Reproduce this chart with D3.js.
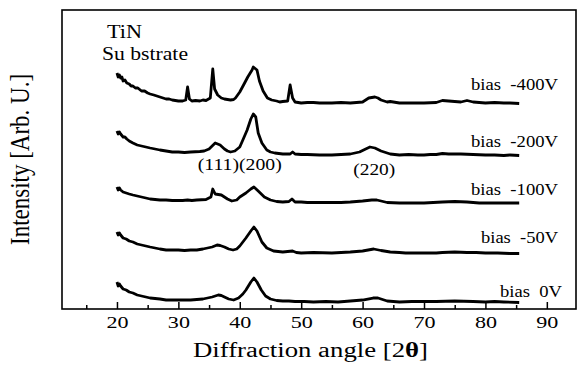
<!DOCTYPE html>
<html>
<head>
<meta charset="utf-8">
<script src="https://cdn.jsdelivr.net/npm/d3@7"></script>
<style>
  body { margin: 0; background: #fff; }
  svg { display: block; font-family: "Liberation Serif", "Times New Roman", serif; }
</style>
</head>
<body>
<div id="chart"></div>
<script>
// XRD patterns, [2theta, intensity above the flat background], one per bias voltage
const biasLabels = ['bias  -400V', 'bias  -200V', 'bias  -100V', 'bias  -50V', 'bias  0V'];
const offsets = [206, 154, 106, 56, 7];

const bias400 = [
  [20, 30], [20.2, 26], [20.4, 28], [20.6, 25], [20.8, 26], [21, 22], [21.3, 23], [21.6, 20],
  [22, 19], [22.3, 17], [22.6, 17], [23, 15], [23.4, 15], [24, 12], [24.5, 12], [25, 10],
  [25.4, 9], [26, 8], [26.5, 7], [27, 6], [27.5, 5], [28, 4], [28.5, 4], [29, 3], [29.5, 2.5],
  [30, 2], [30.7, 2], [31.2, 3], [31.5, 16], [31.8, 4], [32.2, 2], [32.8, 2.5], [33.5, 2],
  [34, 3], [34.5, 2.5], [35.2, 5], [35.6, 34], [35.9, 14], [36.4, 8], [37, 5], [37.5, 4],
  [38, 3.5], [38.5, 3], [39, 3.5], [39.3, 5], [40, 11], [40.7, 19], [41.3, 26], [41.7, 30],
  [42, 33], [42.2, 36], [42.4, 35], [42.8, 33], [43.2, 22], [43.8, 12], [44.5, 5], [45.2, 3],
  [46, 2], [46.5, 1], [47, 1.5], [47.8, 2], [48.2, 18], [48.6, 5], [49, 1], [50, 0], [51, 0.5],
  [52, 0.5], [53, 0], [55, 0], [56.5, 0.5], [58, 0], [60, 1], [61, 5], [62, 6], [62.5, 5],
  [63, 3], [64, 1], [64.5, 1.5], [66, 0], [68, 0], [70, 0], [72, 0.5], [73, 2.5], [74, 2],
  [75, 1.5], [76, 1], [77, 2.5], [78, 1], [79, 0.5], [80, 0], [81.5, 0.5], [83, 0], [84, 0],
  [85.5, -0.5]
];
const bias200 = [
  [20, 24], [20.2, 21], [20.4, 23], [20.6, 21], [21, 18], [21.3, 18], [21.6, 16], [22, 14],
  [22.6, 12], [23.3, 10], [24, 9], [24.7, 8], [25.4, 7], [26.2, 6], [27, 5], [28, 4], [29, 3],
  [30, 3], [31, 2.5], [32, 3], [33.5, 3.5], [34.2, 4], [35, 6], [35.5, 9], [36, 12], [36.4, 11],
  [36.8, 10], [37.5, 6], [38, 4], [38.5, 3], [39.2, 4], [40, 8], [40.5, 15], [41.2, 25],
  [41.8, 36], [42.2, 41], [42.6, 38], [43, 22], [43.6, 12], [44.4, 5], [45, 3], [45.7, 2],
  [47, 1], [48.2, 1], [48.6, 3], [49, 1], [50, 0.5], [51, 0.5], [53, 0], [55, 0], [56.5, 0.5],
  [58, 1], [59.5, 3], [60.5, 6], [61.2, 8], [62, 7], [63, 4], [64.5, 1], [66, 0], [67.5, 0.5],
  [69, 0], [70, 0], [71, 0.5], [72, 0.5], [73, 1.5], [74, 1], [76, 1], [78, 0.5], [80, 0],
  [81.5, 0], [83, -0.5], [84, 0], [85.5, -0.5]
];
const bias100 = [
  [20, 16], [20.2, 13], [20.4, 15], [20.6, 13], [21, 11], [21.5, 10], [22, 9], [22.6, 8],
  [23.3, 7], [24, 6], [24.7, 5], [25.4, 4], [26.2, 3.5], [27, 3], [28, 3], [29, 2.5],
  [30.7, 2.5], [31.5, 3], [32.2, 2.5], [33, 3], [34.5, 3.5], [35.3, 6], [35.6, 14], [36, 9],
  [36.5, 8.5], [37, 8], [38, 4], [38.7, 2], [39.5, 3], [40, 6], [41, 10], [41.8, 14], [42.3, 16],
  [43, 12], [44, 6], [45, 3], [46, 1.5], [47, 1], [48, 1.5], [48.5, 4], [49, 1], [50, 1],
  [51, 0.5], [53, 0.5], [55, 0.5], [56.5, 0.5], [58, 1], [60, 2], [61.5, 3], [62.3, 3], [63, 2],
  [64, 0.5], [66, 0], [68, 0], [70, 0], [71.5, 0.5], [73, 1], [75, 1.5], [77, 1], [78, 0.5],
  [79, 0], [81, 0], [83, 0], [85.5, 0]
];
const bias50 = [
  [20, 21], [20.2, 18], [20.4, 20], [20.6, 18], [21, 15], [21.5, 14], [22, 12], [22.6, 11],
  [23.3, 9], [24, 8], [24.7, 7], [25.4, 6], [26.2, 5], [27, 4], [28, 3], [29, 3], [30, 3],
  [31, 2.5], [32, 3], [33, 3], [34, 4], [35.5, 6], [36.3, 8], [36.8, 7.5], [37.5, 6], [38.2, 4],
  [38.9, 3], [39.5, 4], [40, 7], [41, 15], [41.8, 22], [42.3, 26], [42.8, 22], [43.6, 11],
  [44.4, 5], [45.5, 2], [47, 1], [48.6, 2], [49.2, 0.5], [50, 0], [52, 0.5], [55, 0], [56.5, 0.5],
  [58, 1], [60, 2], [61.8, 4], [63, 2.5], [64.5, 1], [66, 0.5], [67, 0], [70, 0], [72, 0],
  [73, 0.5], [75, 1], [77, 0.5], [78.5, 0.5], [80, 0], [82, 0], [84, -0.5], [85.5, -0.5]
];
const bias0 = [
  [20, 20], [20.2, 16], [20.4, 18], [20.6, 16], [21, 13], [21.5, 12], [22, 10], [22.6, 9],
  [23.3, 7], [24, 6], [24.7, 5], [25.4, 4], [26.2, 3.5], [27, 3], [28, 2], [29, 2], [30, 2],
  [31, 2], [32, 2], [33, 2.5], [34, 3], [35.5, 5], [36.5, 7], [37, 6.5], [37.5, 5], [38.2, 3],
  [39, 2], [39.8, 4], [40.5, 8], [41, 12], [41.8, 20], [42.3, 24], [42.8, 20], [43.5, 12],
  [44.2, 6], [45, 3], [46, 1.5], [47, 1], [48, 1], [49, 0.5], [50.5, 0.5], [52, 0], [54, 0.5],
  [56, 0], [58, 1], [60, 2], [61.7, 4], [62.5, 4], [63, 3], [64, 1], [66, 0], [68, 0.5],
  [70, 0.5], [72, 0.5], [75, 1], [78, 0.5], [80, 0], [81.5, 0.5], [83, 0], [85.5, -0.5]
];
const series = [bias400, bias200, bias100, bias50, bias0];

const xTicks = [20, 30, 40, 50, 60, 70, 80, 90];
const xMinorTicks = [15, 25, 35, 45, 55, 65, 75, 85];
const peakLabels = ['(111)(200)', '(220)'];
const peakAngles = [40.0, 61.9];

const width = 577;
const height = 367;
const margin = { top: 10, right: 1, bottom: 58, left: 62 };

// label placement, in pixels
const biasLift = [13, 8, 8, 10, 5];
const biasWidth = [87, 87, 87, 77, 62];
const biasRight = [558, 558, 558, 558, 562];
const peakLabelY = [170, 175];
const peakLabelWidth = [84, 42];

const svg = d3.select('#chart')
  .append('svg')
  .attr('width', width)
  .attr('height', height);

const x = d3.scaleLinear()
  .domain([11.05, 94.75])
  .range([margin.left, width - margin.right]);
const y = d3.scaleLinear()
  .domain([0, height - margin.top - margin.bottom])
  .range([height - margin.bottom, margin.top]);

const line = d3.line()
  .x(d => x(d[0]))
  .y(d => y(d[1]));

svg.append('g')
  .attr('class', 'curves')
  .selectAll('path')
  .data(series)
  .join('path')
  .attr('fill', 'none')
  .attr('stroke', '#000')
  .attr('stroke-width', 2.8)
  .attr('stroke-linejoin', 'round')
  .attr('d', (d, i) => line(d.map(p => [p[0], p[1] + offsets[i]])));

// frame
svg.append('rect')
  .attr('x', margin.left)
  .attr('y', margin.top)
  .attr('width', width - margin.left - margin.right)
  .attr('height', height - margin.top - margin.bottom)
  .attr('fill', 'none')
  .attr('stroke', '#000')
  .attr('stroke-width', 1.6);

// x axis, ticks pointing inward
const xAxis = d3.axisBottom(x)
  .tickValues(xTicks)
  .tickSizeInner(-7)
  .tickSizeOuter(0)
  .tickPadding(7);
const xMinor = d3.axisBottom(x)
  .tickValues(xMinorTicks)
  .tickSizeInner(-4)
  .tickSizeOuter(0)
  .tickFormat('');

const gx = svg.append('g')
  .attr('class', 'x-axis')
  .attr('transform', `translate(0,${height - margin.bottom})`)
  .call(xAxis);
svg.append('g')
  .attr('class', 'x-minor')
  .attr('transform', `translate(0,${height - margin.bottom})`)
  .call(xMinor);
svg.selectAll('.x-axis path, .x-minor path').remove();
svg.selectAll('.x-axis line, .x-minor line')
  .attr('stroke', '#000')
  .attr('stroke-width', 1.5);
gx.selectAll('text')
  .attr('font-family', '"Liberation Serif", "Times New Roman", serif')
  .attr('font-size', 17)
  .attr('fill', '#000')
  .attr('transform', 'scale(1.3,1)');

// axis titles
const xTitle = svg.append('text')
  .attr('x', 193)
  .attr('y', 357)
  .attr('font-size', 20)
  .attr('textLength', 235)
  .attr('lengthAdjust', 'spacingAndGlyphs');
xTitle.append('tspan').text('Diffraction angle [2');
xTitle.append('tspan').attr('font-weight', 'bold').text('θ');
xTitle.append('tspan').text(']');

svg.append('text')
  .attr('transform', `translate(29,${(margin.top + height - margin.bottom) / 2}) scale(1.15,1) rotate(-90)`)
  .attr('text-anchor', 'middle')
  .attr('font-size', 23)
  .text('Intensity [Arb. U.]');

// bias labels sit above the flat tail of each pattern
svg.append('g')
  .selectAll('text')
  .data(biasLabels)
  .join('text')
  .attr('x', (d, i) => biasRight[i] - biasWidth[i])
  .attr('y', (d, i) => y(offsets[i]) - biasLift[i])
  .attr('font-size', 16)
  .attr('textLength', (d, i) => biasWidth[i])
  .attr('lengthAdjust', 'spacingAndGlyphs')
  .style('white-space', 'pre')
  .text(d => d);

svg.append('g')
  .selectAll('text')
  .data(peakLabels)
  .join('text')
  .attr('x', (d, i) => x(peakAngles[i]) - peakLabelWidth[i] / 2)
  .attr('y', (d, i) => peakLabelY[i])
  .attr('font-size', 16)
  .attr('textLength', (d, i) => peakLabelWidth[i])
  .attr('lengthAdjust', 'spacingAndGlyphs')
  .text(d => d);

svg.append('text')
  .attr('x', 107)
  .attr('y', 38)
  .attr('font-size', 18)
  .attr('textLength', 35)
  .attr('lengthAdjust', 'spacingAndGlyphs')
  .text('TiN');
svg.append('text')
  .attr('x', 102)
  .attr('y', 60)
  .attr('font-size', 18)
  .attr('textLength', 86)
  .attr('lengthAdjust', 'spacingAndGlyphs')
  .style('white-space', 'pre')
  .text('Su bstrate');
</script>
</body>
</html>
